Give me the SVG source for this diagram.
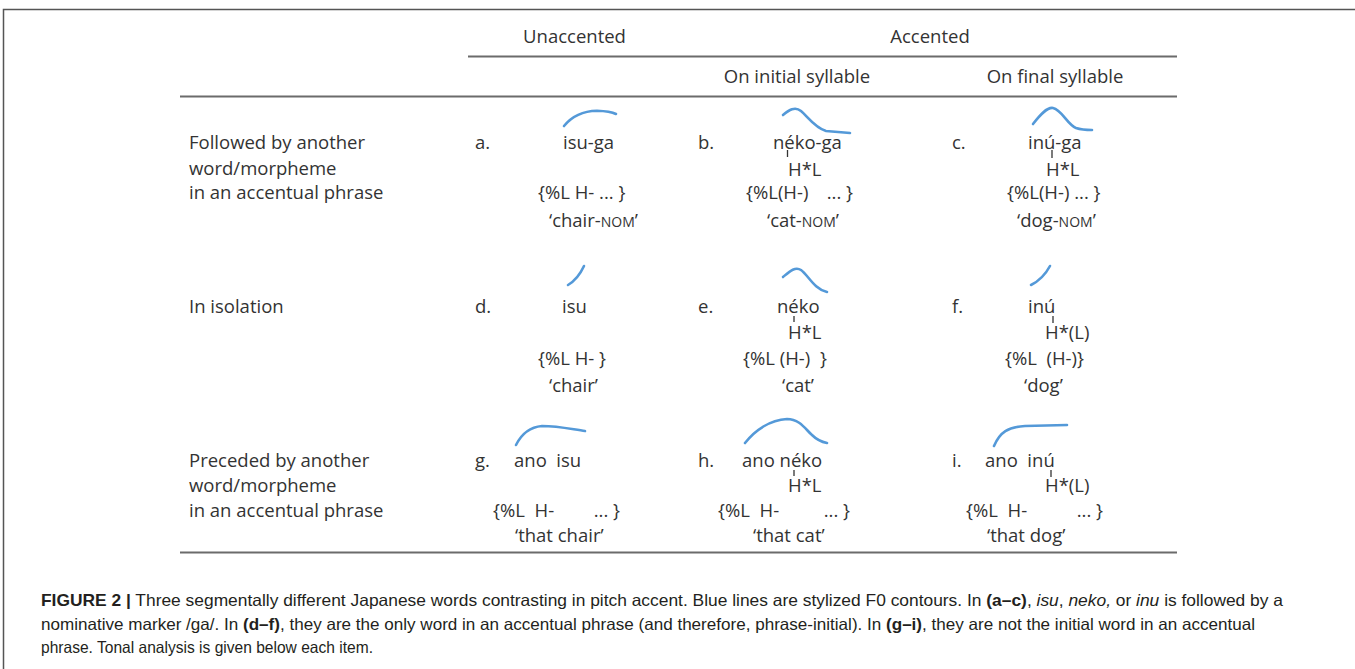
<svg xmlns="http://www.w3.org/2000/svg" width="1355" height="669" viewBox="0 0 1355 669">
<style>
.t{font-family:"Open Sans","DejaVu Sans",sans-serif;font-size:18.5px;fill:#333;white-space:pre}
.sc{font-size:14px}
.c{fill:none;stroke:#5499d8;stroke-width:2.6;stroke-linecap:round;stroke-linejoin:round}
.k{stroke:#333;stroke-width:1.3}
.rule{stroke:#6b6b6b;stroke-width:2}
.cap{font-family:"Liberation Sans",Arial,sans-serif;font-size:16.5px;fill:#231f20;white-space:pre}
.b{font-weight:bold}
.i{font-style:italic}
</style>
<rect width="1355" height="669" fill="#fff"/>
<g id="frame" fill="none" stroke="#555" stroke-width="1.5">
<path d="M3.5,669 V9.5 H1355"/>
</g>
<g id="connectors">
<line class="rule" x1="468" y1="56.5" x2="1177" y2="56.5"/>
<line class="rule" x1="180" y1="96.5" x2="1177" y2="96.5"/>
<line class="rule" x1="180" y1="552.5" x2="1177" y2="552.5"/>
</g>
<g id="headers">
<text class="t" x="574.5" y="43" text-anchor="middle">Unaccented</text>
<text class="t" x="930" y="43" text-anchor="middle">Accented</text>
<text class="t" x="797" y="83" text-anchor="middle">On initial syllable</text>
<text class="t" x="1055" y="83" text-anchor="middle">On final syllable</text>
</g>
<g id="row-labels">
<text class="t" x="189" y="149">Followed by another</text>
<text class="t" x="189" y="175">word/morpheme</text>
<text class="t" x="189" y="199">in an accentual phrase</text>
<text class="t" x="189" y="313">In isolation</text>
<text class="t" x="189" y="467">Preceded by another</text>
<text class="t" x="189" y="492">word/morpheme</text>
<text class="t" x="189" y="517">in an accentual phrase</text>
</g>
<g id="item-a">
<path class="c" d="M564,126 C572,116 582,111 597,110.7 C606,111 612,112 616,114"/>
<text class="t" x="475" y="149">a.</text>
<text class="t" x="563" y="149">isu-ga</text>
<text class="t" x="538" y="199">{%L H- ... }</text>
<text class="t" x="549" y="227">‘chair-<tspan class="sc">NOM</tspan>’</text>
</g>
<g id="item-b">
<path class="c" d="M783,115 C789,110 795,106 801,111 C808,117 815,128 826,131 L850,133"/>
<text class="t" x="698" y="149">b.</text>
<text class="t" x="773" y="149">néko-ga</text>
<line class="k" x1="787.5" y1="150" x2="787.5" y2="157"/>
<text class="t" x="788" y="176">H*L</text>
<text class="t" x="746" y="199">{%L(H-)</text>
<text class="t" x="853" y="199" text-anchor="end">... }</text>
<text class="t" x="767" y="227">‘cat-<tspan class="sc">NOM</tspan>’</text>
</g>
<g id="item-c">
<path class="c" d="M1033,124 C1040,115 1047,107 1053,108 C1062,110 1067,124 1076,128 C1082,130 1088,130 1092,130"/>
<text class="t" x="952" y="149">c.</text>
<text class="t" x="1028" y="149">inú-ga</text>
<line class="k" x1="1052" y1="150" x2="1052" y2="158"/>
<text class="t" x="1046" y="176">H*L</text>
<text class="t" x="1007" y="199">{%L(H-) ... }</text>
<text class="t" x="1017" y="227">‘dog-<tspan class="sc">NOM</tspan>’</text>
</g>
<g id="item-d">
<path class="c" d="M568,285 Q578,279 584,266"/>
<text class="t" x="475" y="313">d.</text>
<text class="t" x="562" y="313">isu</text>
<text class="t" x="538" y="365">{%L H- }</text>
<text class="t" x="549" y="392">‘chair’</text>
</g>
<g id="item-e">
<path class="c" d="M783,277 C789,272 795,266 801,270 C808,275 814,289 827,292"/>
<text class="t" x="698" y="313">e.</text>
<text class="t" x="777" y="313">néko</text>
<line class="k" x1="794" y1="316" x2="794" y2="322"/>
<text class="t" x="788" y="339">H*L</text>
<text class="t" x="743" y="365">{%L (H-)</text>
<text class="t" x="827" y="365" text-anchor="end">}</text>
<text class="t" x="782" y="392">‘cat’</text>
</g>
<g id="item-f">
<path class="c" d="M1031,285 Q1043,279 1050,266"/>
<text class="t" x="952" y="313">f.</text>
<text class="t" x="1028" y="313">inú</text>
<line class="k" x1="1053" y1="316" x2="1053" y2="323"/>
<text class="t" x="1045" y="339">H*(L)</text>
<text class="t" x="1005" y="365">{%L  (H-)}</text>
<text class="t" x="1024" y="392">‘dog’</text>
</g>
<g id="item-g">
<path class="c" d="M516,445 C522,433 530,427 542,426 C560,426 575,430 585,431"/>
<text class="t" x="475" y="467">g.</text>
<text class="t" x="514" y="467">ano  isu</text>
<text class="t" x="493" y="517">{%L  H-</text>
<text class="t" x="620" y="517" text-anchor="end">... }</text>
<text class="t" x="515" y="542">‘that chair’</text>
</g>
<g id="item-h">
<path class="c" d="M745,443 C755,430 770,420 787,419 C800,419 806,430 812,435 C817,440 822,442 827,443"/>
<text class="t" x="698" y="467">h.</text>
<text class="t" x="742" y="467">ano néko</text>
<line class="k" x1="794" y1="470" x2="794" y2="476"/>
<text class="t" x="788" y="492">H*L</text>
<text class="t" x="718" y="517">{%L  H-</text>
<text class="t" x="850" y="517" text-anchor="end">... }</text>
<text class="t" x="753" y="542">‘that cat’</text>
</g>
<g id="item-i">
<path class="c" d="M994,446 C1000,432 1008,427 1025,426 L1067,425"/>
<text class="t" x="952" y="467">i.</text>
<text class="t" x="985" y="467">ano  inú</text>
<line class="k" x1="1051" y1="470" x2="1051" y2="477"/>
<text class="t" x="1045" y="492">H*(L)</text>
<text class="t" x="966" y="517">{%L  H-</text>
<text class="t" x="1103" y="517" text-anchor="end">... }</text>
<text class="t" x="987" y="542">‘that dog’</text>
</g>
<g id="caption">
<text class="cap" x="41" y="606" textLength="1242" lengthAdjust="spacingAndGlyphs"><tspan class="b">FIGURE 2 |</tspan> Three segmentally different Japanese words contrasting in pitch accent. Blue lines are stylized F0 contours. In <tspan class="b">(a–c)</tspan>, <tspan class="i">isu</tspan>, <tspan class="i">neko,</tspan> or <tspan class="i">inu</tspan> is followed by a</text>
<text class="cap" x="41" y="630" textLength="1214" lengthAdjust="spacingAndGlyphs">nominative marker /ga/. In <tspan class="b">(d–f)</tspan>, they are the only word in an accentual phrase (and therefore, phrase-initial). In <tspan class="b">(g–i)</tspan>, they are not the initial word in an accentual</text>
<text class="cap" x="41" y="653" textLength="332" lengthAdjust="spacingAndGlyphs">phrase. Tonal analysis is given below each item.</text>
</g>
</svg>
